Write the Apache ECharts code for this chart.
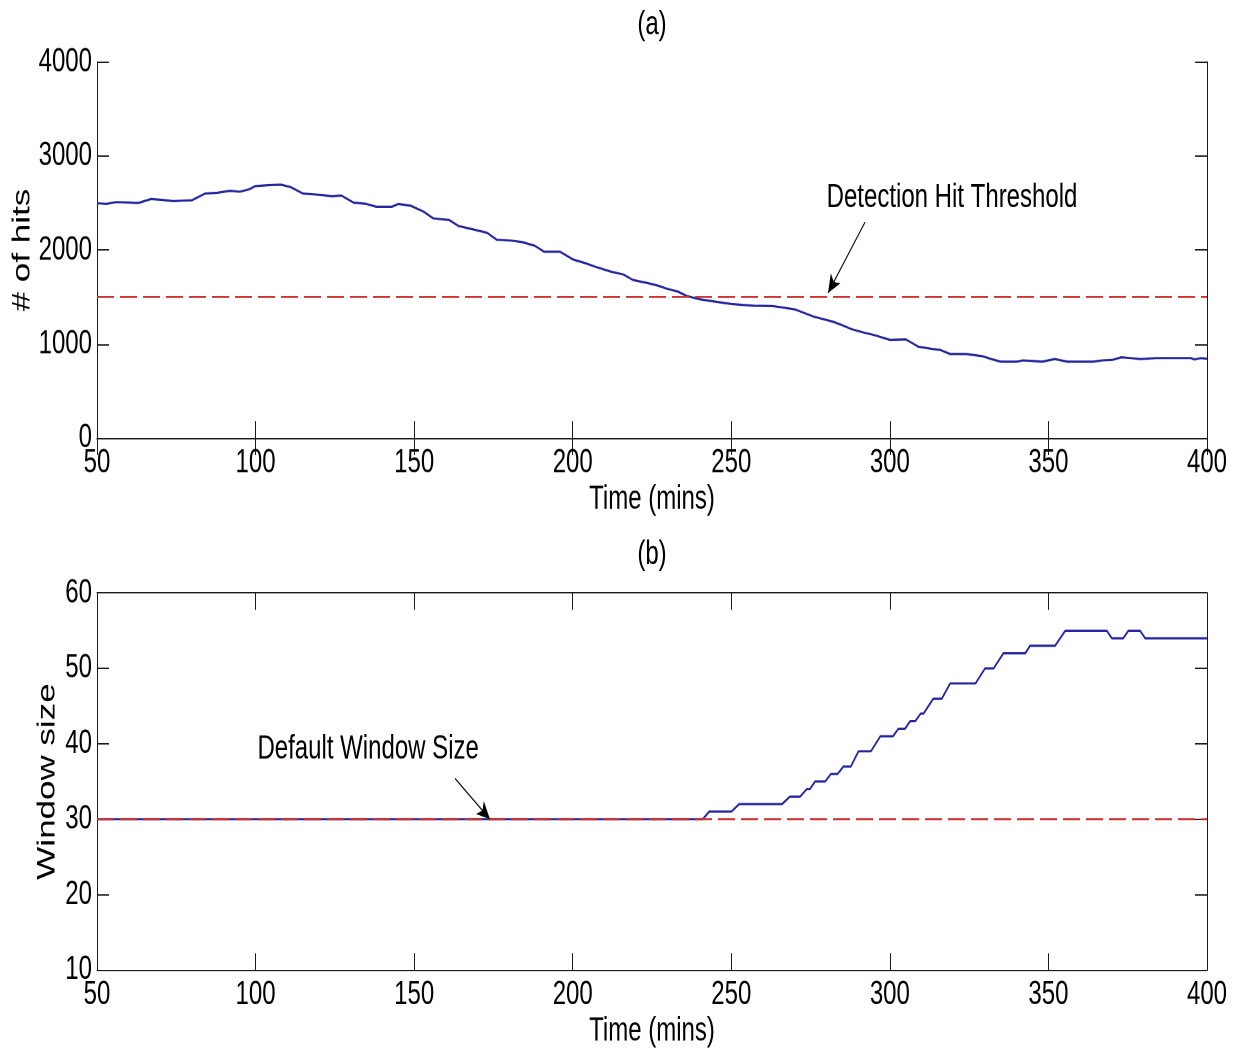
<!DOCTYPE html>
<html>
<head>
<meta charset="utf-8">
<title>Hits and window size over time</title>
<script src="https://cdn.jsdelivr.net/npm/echarts@6/dist/echarts.min.js"></script>
<style>
  html, body { margin: 0; padding: 0; background: #fff; overflow: hidden; }
  #page { width: 1241px; height: 1051px; position: relative; }
  /* the figure is drawn on a shorter canvas and stretched vertically, like the exported plot */
  #chart { width: 1241px; height: 751px; transform-origin: 0 0; }
</style>
</head>
<body>
<div id="page"><div id="chart"></div></div>
<script>
// (a) number of hits over time
const hitTime = [50, 53, 56, 60, 63, 67, 70, 74, 77, 80, 84, 88, 92, 95, 98, 100, 104, 108, 111, 115,
  119, 121, 124, 127, 131, 135, 138, 143, 145, 149, 153, 156, 161, 164, 168, 173, 176, 181, 184, 188,
  191, 196, 200, 204, 207, 212, 216, 219, 224, 227, 230, 233, 236, 240, 245, 250, 254, 257, 263, 266,
  270, 273, 276, 282, 285, 288, 292, 295, 300, 305, 309, 313, 316, 319, 324, 329, 332, 335, 340, 342,
  345, 348, 352, 356, 364, 367, 370, 373, 376, 379, 384, 395, 396, 398, 400];
const hitCount = [2497, 2490, 2510, 2505, 2500, 2543, 2535, 2520, 2525, 2530, 2600, 2610, 2630, 2620, 2646, 2681, 2690, 2695, 2670, 2600,
  2590, 2585, 2570, 2580, 2503, 2490, 2461, 2461, 2490, 2470, 2408, 2337, 2320, 2255, 2225, 2184, 2110, 2099, 2085, 2046,
  1982, 1982, 1901, 1860, 1823, 1770, 1740, 1681, 1646, 1620, 1585, 1560, 1511, 1476, 1450, 1426, 1415, 1408, 1404, 1390,
  1369, 1330, 1291, 1238, 1200, 1157, 1120, 1096, 1045, 1050, 971, 950, 936, 894, 894, 872, 840, 812, 812, 826,
  820, 812, 840, 812, 812, 826, 830, 858, 850, 840, 850, 850, 835, 850, 843];
const thresholdTime = [50, 400];
const thresholdHits = [1500, 1500];

// (b) window size over time
const winTime = [50, 241, 243, 250, 252.5, 266, 268.5, 271.7, 273.8, 274.8, 276.4, 279.6, 281.4, 283.5, 285.4, 287.7,
  290.1, 294, 297, 301, 302.7, 304.8, 306.4, 308, 309.7, 310.6, 313.7, 316.4, 319, 327, 330, 332.7,
  335.8, 342.7, 344.2, 352.1, 355.3, 368.4, 370, 373.6, 375.2, 378.9, 380.5, 400];
const winSize = [30, 30, 31, 31, 32, 32, 33, 33, 34, 34, 35, 35, 36, 36, 37, 37,
  39, 39, 41, 41, 42, 42, 43, 43, 44, 44, 46, 46, 48, 48, 50, 50,
  52, 52, 53, 53, 55, 55, 54, 54, 55, 55, 54, 54];
const defaultTime = [50, 400];
const defaultSize = [30, 30];

// tick settings
const timeTicks = { min: 50, max: 400, interval: 50 };
const hitTicks = { min: 0, max: 4000, interval: 1000 };
const sizeTicks = { min: 10, max: 60, interval: 10 };

// annotations: label text, label anchor, arrow tail, arrow head
const hitNote = { text: 'Detection Hit Threshold', at: [319.6, 2553], from: [292.2, 2298], to: [280.5, 1543] };
const sizeNote = { text: 'Default Window Size', at: [135.5, 39.3], from: [162.9, 35.4], to: [173.9, 30] };

// vertical stretch of the drawing
const PAGE_H = 1051, CANVAS_H = 751;
const S = PAGE_H / CANVAS_H;
document.getElementById('chart').style.transform = 'scaleY(' + S + ')';

const font = "'Liberation Sans', Arial, Helvetica, sans-serif";
const blue = '#2525a0';
const red = '#cf3030';
const axisColor = '#1a1a1a';
const plain = v => String(v);

function xAxes(gridIndex) {
  const base = {
    type: 'value', gridIndex, ...timeTicks,
    axisLine: { show: true, lineStyle: { color: axisColor, width: 1 } },
    axisTick: { show: true, inside: true, length: 12, lineStyle: { color: axisColor } },
    splitLine: { show: false }
  };
  return [
    Object.assign({}, base, {
      position: 'bottom',
      axisLabel: { fontFamily: font, fontSize: 24, color: '#000', margin: 6, formatter: plain },
      name: 'Time (mins)', nameLocation: 'middle', nameGap: 32, nameMoveOverlap: false,
      nameTextStyle: { fontFamily: font, fontSize: 24, color: '#000' }
    }),
    Object.assign({}, base, { position: 'top', axisLabel: { show: false } })
  ];
}

function yAxes(gridIndex, ticks, name, nameGap) {
  const base = {
    type: 'value', gridIndex, ...ticks,
    axisLine: { show: true, lineStyle: { color: axisColor, width: 1 } },
    axisTick: { show: true, inside: true, length: 12, lineStyle: { color: axisColor } },
    splitLine: { show: false }
  };
  return [
    Object.assign({}, base, {
      position: 'left',
      axisLabel: { fontFamily: font, fontSize: 24, color: '#000', margin: 5, formatter: plain },
      name, nameLocation: 'middle', nameGap, nameMoveOverlap: false,
      nameTextStyle: { fontFamily: font, fontSize: 25, color: '#000' }
    }),
    Object.assign({}, base, { position: 'right', axisLabel: { show: false } })
  ];
}

function noteSeries(note, xi, yi) {
  return {
    type: 'line', xAxisIndex: xi, yAxisIndex: yi, data: [], silent: true,
    markPoint: {
      symbol: 'circle', symbolSize: 0, silent: true,
      label: { show: true, position: 'inside', formatter: note.text, fontFamily: font, fontSize: 24, color: '#000' },
      data: [{ coord: note.at }]
    },
    markLine: {
      silent: true, symbol: ['none', 'arrow'], symbolSize: [9, 13],
      lineStyle: { color: '#000', type: 'solid', width: 1 },
      label: { show: false },
      data: [[{ coord: note.from }, { coord: note.to }]]
    }
  };
}

const chart = echarts.init(document.getElementById('chart'), null, { devicePixelRatio: 2 });
chart.setOption({
  animation: false,
  backgroundColor: '#fff',
  grid: [
    { left: 97, top: 62 / S, width: 1110, height: 376 / S, outerBoundsMode: 'none', containLabel: false },
    { left: 97, top: 593 / S, width: 1110, height: 377 / S, outerBoundsMode: 'none', containLabel: false }
  ],
  xAxis: [...xAxes(0), ...xAxes(1)],
  yAxis: [...yAxes(0, hitTicks, '# of hits', 62), ...yAxes(1, sizeTicks, 'Window size', 37)],
  graphic: [
    { type: 'text', x: 652, y: 25 / S, style: { text: '(a)', align: 'center', verticalAlign: 'middle', font: '24px ' + font, fill: '#000' } },
    { type: 'text', x: 652, y: 555 / S, style: { text: '(b)', align: 'center', verticalAlign: 'middle', font: '24px ' + font, fill: '#000' } }
  ],
  series: [
    {
      name: 'hits', type: 'line', xAxisIndex: 0, yAxisIndex: 0,
      data: hitTime.map((t, i) => [t, hitCount[i]]), showSymbol: false,
      lineStyle: { color: blue, width: 1.6 }
    },
    {
      name: 'threshold', type: 'line', xAxisIndex: 0, yAxisIndex: 0,
      data: thresholdTime.map((t, i) => [t, thresholdHits[i]]), showSymbol: false,
      lineStyle: { color: red, width: 1.4, type: [17, 6] }
    },
    noteSeries(hitNote, 0, 0),
    {
      name: 'window', type: 'line', xAxisIndex: 2, yAxisIndex: 2,
      data: winTime.map((t, i) => [t, winSize[i]]), showSymbol: false,
      lineStyle: { color: blue, width: 1.6 }
    },
    {
      name: 'default', type: 'line', xAxisIndex: 2, yAxisIndex: 2,
      data: defaultTime.map((t, i) => [t, defaultSize[i]]), showSymbol: false,
      lineStyle: { color: red, width: 1.4, type: [17, 6] }
    },
    noteSeries(sizeNote, 2, 2)
  ]
});
</script>
</body>
</html>
